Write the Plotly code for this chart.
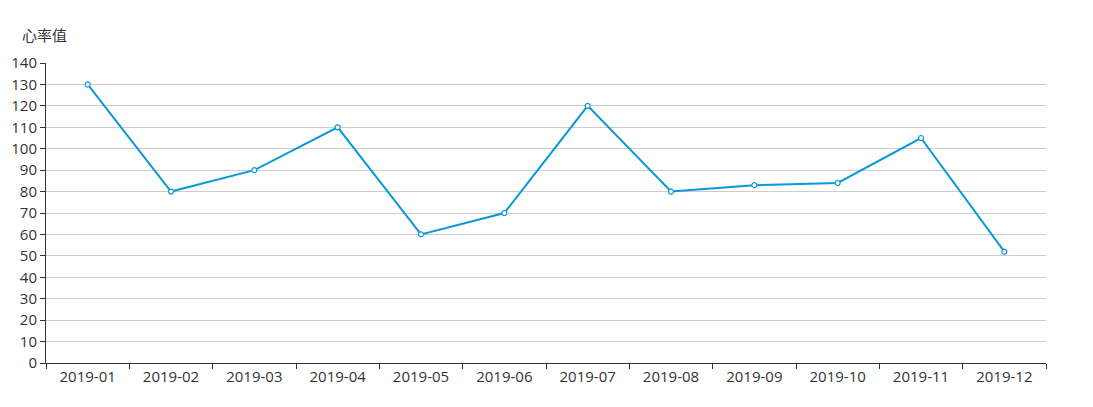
import plotly.graph_objects as go

months = ["2019-01", "2019-02", "2019-03", "2019-04", "2019-05", "2019-06",
          "2019-07", "2019-08", "2019-09", "2019-10", "2019-11", "2019-12"]
heart_rate = [130, 80, 90, 110, 60, 70, 120, 80, 83, 84, 105, 52]
y_title = "心率值"

line_color = "#0a98d9"
font_family = "Open Sans, Noto Sans CJK SC, sans-serif"

fig = go.Figure()
fig.add_trace(go.Scatter(
    x=months, y=heart_rate, mode="lines+markers",
    line=dict(color=line_color, width=2),
    marker=dict(symbol="circle", size=5, color="white",
                line=dict(color=line_color, width=1.2)),
    hoverinfo="x+y", showlegend=False,
))

fig.update_layout(
    width=1093, height=407,
    margin=dict(l=38, r=55, t=55, b=52, autoexpand=False),
    paper_bgcolor="white", plot_bgcolor="white",
    font=dict(family=font_family, size=15, color="#333"),
    xaxis=dict(
        type="category", range=[-0.5, 11.5], automargin=False,
        showgrid=False, showline=True, linecolor="#333", linewidth=1,
        ticks="outside", tickson="boundaries", ticklen=5, tickcolor="#333",
        tickfont=dict(size=15, color="#333"), fixedrange=True,
    ),
    yaxis=dict(
        range=[0, 140], dtick=10, tick0=0, automargin=False,
        showgrid=True, gridcolor="#ccc", gridwidth=1,
        showline=True, linecolor="#333", linewidth=1,
        ticks="outside", ticklen=5, tickcolor="#333",
        tickfont=dict(size=15, color="#333"), zeroline=False,
        fixedrange=True,
    ),
    annotations=[dict(
        text=y_title, xref="paper", yref="paper", x=0, y=1,
        xshift=-26, yshift=29, xanchor="left", yanchor="middle",
        showarrow=False, font=dict(family="Noto Sans CJK SC", size=15, color="#333"),
    )],
)

fig.write_html("out.html")
